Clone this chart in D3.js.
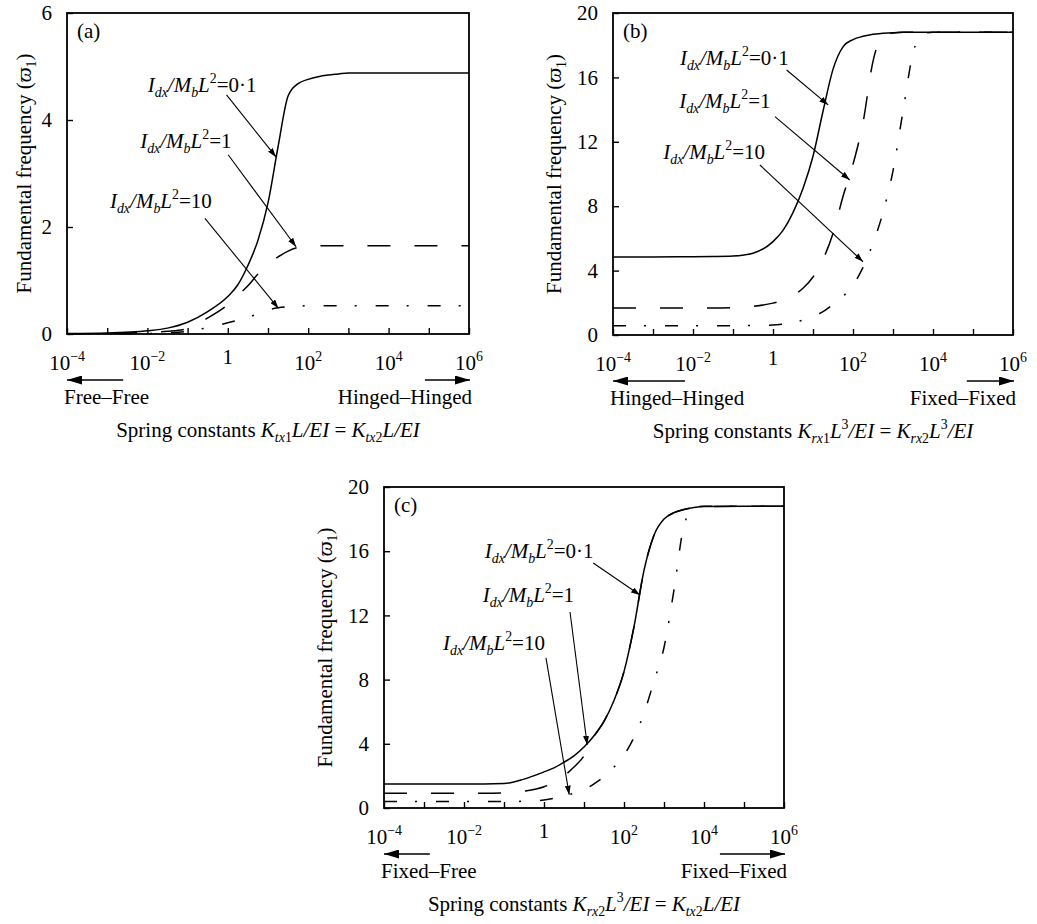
<!DOCTYPE html>
<html>
<head>
<meta charset="utf-8">
<script src="https://cdnjs.cloudflare.com/ajax/libs/d3/7.8.5/d3.min.js"></script>
<style>
  body { margin: 0; background: #fff; }
  svg text { font-family: 'Liberation Serif', 'Times New Roman', serif; fill: #000; white-space: pre; }
</style>
</head>
<body>
<svg id="chart" width="1037" height="924"></svg>
<script>
// spring constant values (log grid) shared by every curve
var kGrid = [1e-4, 1e-3, 1e-2, 0.0316, 0.1, 0.316, 1, 1.78, 3.16, 5.62, 10, 17.8, 31.6, 56.2,
  100, 178, 316, 562, 1000, 1780, 3160, 5620, 1e4, 1e5, 1e6];
var decades = [1e-4, 1e-3, 1e-2, 1e-1, 1, 10, 100, 1e3, 1e4, 1e5, 1e6];
var tickLabels = [[1e-4, '−4'], [1e-2, '−2'], [1, ''], [100, '2'], [1e4, '4'], [1e6, '6']];
var ratios = ['0·1', '1', '10'];

// (a) translational springs, free-free -> hinged-hinged
var aSolid = [0.01, 0.02, 0.06, 0.11, 0.22, 0.42, 0.7, 0.92, 1.28, 1.75, 2.45, 3.5, 4.45, 4.68,
  4.76, 4.81, 4.84, 4.86, 4.88, 4.88, 4.88, 4.88, 4.88, 4.88, 4.88];
var aDashed = [0.005, 0.01, 0.03, 0.05, 0.1, 0.3, 0.55, 0.72, 0.9, 1.12, 1.3, 1.44, 1.55, 1.62,
  1.64, 1.65, 1.65, 1.65, 1.65, 1.65, 1.65, 1.65, 1.65, 1.65, 1.65];
var aDashDot = [0.002, 0.004, 0.01, 0.02, 0.05, 0.12, 0.21, 0.26, 0.31, 0.38, 0.45, 0.49, 0.51, 0.52,
  0.53, 0.53, 0.53, 0.53, 0.53, 0.53, 0.53, 0.53, 0.53, 0.53, 0.53];

// (b) rotational springs, hinged-hinged -> fixed-fixed
var bSolid = [4.85, 4.85, 4.86, 4.87, 4.9, 5.08, 5.8, 6.5, 7.6, 9.1, 11.1, 13.9, 16.5, 17.9,
  18.35, 18.55, 18.68, 18.74, 18.78, 18.8, 18.8, 18.8, 18.8, 18.8, 18.8];
var bDashed = [1.68, 1.68, 1.68, 1.68, 1.7, 1.78, 1.98, 2.15, 2.45, 2.9, 3.6, 4.7, 6.3, 8.6,
  10.6, 13.2, 17.0, 18.6, 18.75, 18.8, 18.8, 18.8, 18.8, 18.8, 18.8];
var bDashDot = [0.58, 0.58, 0.58, 0.58, 0.58, 0.59, 0.62, 0.68, 0.77, 0.93, 1.15, 1.45, 1.9, 2.4,
  3.1, 4.2, 5.7, 7.6, 10.2, 13.9, 17.5, 18.7, 18.8, 18.8, 18.8];

// (c) springs at end 2, fixed-free -> fixed-fixed
var cSolid = [1.5, 1.5, 1.5, 1.5, 1.52, 1.8, 2.25, 2.5, 2.85, 3.25, 3.8, 4.5, 5.4, 6.7,
  8.5, 11.3, 14.8, 17.0, 18.0, 18.4, 18.6, 18.72, 18.78, 18.8, 18.8];
var cDashed = [0.92, 0.92, 0.92, 0.92, 0.95, 1.05, 1.32, 1.6, 2.0, 2.55, 3.25, 4.45, 5.4, 6.7,
  8.5, 11.3, 14.8, 17.0, 18.0, 18.4, 18.6, 18.72, 18.78, 18.8, 18.8];
var cDashDot = [0.4, 0.4, 0.4, 0.4, 0.4, 0.42, 0.5, 0.6, 0.75, 0.92, 1.15, 1.5, 1.95, 2.55,
  3.3, 4.4, 5.9, 7.9, 10.0, 13.6, 17.6, 18.7, 18.8, 18.8, 18.8];

var styles = [null, '23,24', '13,18,2,19'];

var svg = d3.select('#chart');
svg.append('rect').attr('width', 1037).attr('height', 924).attr('fill', '#fff');

var defs = svg.append('defs');
defs.append('marker').attr('id', 'tip')
  .attr('markerUnits', 'userSpaceOnUse').attr('markerWidth', 10).attr('markerHeight', 6)
  .attr('refX', 9).attr('refY', 3).attr('orient', 'auto')
  .append('path').attr('d', 'M0,0 L9,3 L0,6 Z').attr('fill', '#000');
defs.append('marker').attr('id', 'bigtip')
  .attr('markerUnits', 'userSpaceOnUse').attr('markerWidth', 16).attr('markerHeight', 9)
  .attr('refX', 15).attr('refY', 4.5).attr('orient', 'auto')
  .append('path').attr('d', 'M0,0 L15,4.5 L0,9 Z').attr('fill', '#000');

// text with italic / sub / superscript parts
function rich(g, x, y, parts, size, anchor) {
  var t = g.append('text').attr('x', x).attr('y', y)
    .attr('font-size', size).attr('text-anchor', anchor || 'start');
  var shift = 0;
  parts.forEach(function(p) {
    var s = p[1], target = 0, fs = size, it = false;
    if (s === 'i') it = true;
    if (s === 'isub') { it = true; target = size * 0.25; fs = size * 0.66; }
    if (s === 'sub') { target = size * 0.25; fs = size * 0.66; }
    if (s === 'sup') { target = -size * 0.42; fs = size * 0.66; }
    t.append('tspan').attr('dy', target - shift).attr('font-size', fs)
      .attr('font-style', it ? 'italic' : 'normal').text(p[0]);
    shift = target;
  });
  return t;
}

function ratioLabel(r) {
  return [['I', 'i'], ['dx', 'isub'], ['/', 'i'], ['M', 'i'], ['b', 'isub'], ['L', 'i'],
    ['2', 'sup'], ['=' + r, 'r']];
}

function drawPanel(p) {
  var g = svg.append('g').attr('transform', 'translate(' + p.left + ',' + p.top + ')');
  var x = d3.scaleLog().domain([1e-4, 1e6]).range([0, p.width]);
  var y = d3.scaleLinear().domain([0, p.yMax]).range([p.height, 0]);

  var xa = g.append('g').attr('transform', 'translate(0,' + p.height + ')')
    .call(d3.axisBottom(x).tickValues(decades).tickSizeInner(-6).tickSizeOuter(0).tickFormat(''));
  var ya = g.append('g')
    .call(d3.axisLeft(y).tickValues(p.yTicks).tickFormat(d3.format('d'))
      .tickSizeInner(-6).tickSizeOuter(0).tickPadding(15));
  ya.attr('font-size', 21).attr('font-family', null);
  xa.select('.domain').remove();
  ya.select('.domain').remove();
  g.selectAll('.tick line').attr('stroke-width', 1.4);

  // x tick labels 10^n
  tickLabels.forEach(function(t) {
    if (t[1] === '') {
      g.append('text').attr('x', x(t[0])).attr('y', p.height + 30)
        .attr('font-size', 21).attr('text-anchor', 'middle').text('1');
    } else {
      rich(g, x(t[0]), p.height + 36, [['10', 'r'], [t[1], 'sup']], 21, 'middle');
    }
  });

  var line = d3.line()
    .x(function(d) { return x(d[0]); })
    .y(function(d) { return y(d[1]); })
    .curve(d3.curveMonotoneX);

  p.series.forEach(function(vals, i) {
    g.append('path')
      .datum(kGrid.map(function(k, j) { return [k, vals[j]]; }))
      .attr('d', line)
      .attr('fill', 'none')
      .attr('stroke', '#000')
      .attr('stroke-width', 1.5)
      .attr('stroke-dasharray', styles[i]);
  });

  g.append('rect').attr('width', p.width).attr('height', p.height)
    .attr('fill', 'none').attr('stroke', '#000').attr('stroke-width', 1.8);

  g.append('text').attr('x', 10).attr('y', 25).attr('font-size', 21).text(p.tag);

  // annotations: label position, arrow start and arrow tip in data units
  p.notes.forEach(function(n, i) {
    rich(g, x(n[0]), y(n[1]), ratioLabel(ratios[i]), 21);
    g.append('line')
      .attr('x1', x(n[2])).attr('y1', y(n[3]))
      .attr('x2', x(n[4])).attr('y2', y(n[5]))
      .attr('stroke', '#000').attr('stroke-width', 1.1)
      .attr('marker-end', 'url(#tip)');
  });

  // end condition arrows
  var ay = p.height + 46;
  g.append('line').attr('x1', x(p.leftArrow)).attr('y1', ay).attr('x2', 0).attr('y2', ay)
    .attr('stroke', '#000').attr('stroke-width', 1.4).attr('marker-end', 'url(#bigtip)');
  g.append('line').attr('x1', x(p.rightArrow)).attr('y1', ay).attr('x2', p.width + 1).attr('y2', ay)
    .attr('stroke', '#000').attr('stroke-width', 1.4).attr('marker-end', 'url(#bigtip)');
  g.append('text').attr('x', -3).attr('y', p.height + 70).attr('font-size', 21).text(p.leftText);
  g.append('text').attr('x', p.width + 3).attr('y', p.height + 70).attr('font-size', 21)
    .attr('text-anchor', 'end').text(p.rightText);

  rich(g, p.width / 2, p.height + 103, p.xTitle, 21, 'middle');

  rich(g.append('g').attr('transform', 'translate(' + p.yTitleX + ',' + (p.height / 2) + ') rotate(-90)'),
    0, 0, [['Fundamental frequency (', 'r'], ['ϖ', 'i'], ['1', 'sub'], [')', 'r']], 21, 'middle');
}

drawPanel({
  tag: '(a)', left: 67, top: 13, width: 402, height: 321, yMax: 6, yTicks: [0, 2, 4, 6],
  series: [aSolid, aDashed, aDashDot],
  notes: [[0.0102, 4.52, 0.93, 4.47, 15.8, 3.31],
          [0.0066, 3.48, 1.02, 3.35, 50, 1.63],
          [0.00117, 2.36, 0.27, 2.16, 18.2, 0.48]],
  leftArrow: 0.0025, rightArrow: 8e4, leftText: 'Free–Free', rightText: 'Hinged–Hinged',
  yTitleX: -36,
  xTitle: [['Spring constants ', 'r'], ['K', 'i'], ['tx', 'isub'], ['1', 'sub'], ['L/EI', 'i'],
    [' = ', 'r'], ['K', 'i'], ['tx', 'isub'], ['2', 'sub'], ['L/EI', 'i']]
});

drawPanel({
  tag: '(b)', left: 613, top: 13, width: 400, height: 322, yMax: 20, yTicks: [0, 4, 8, 12, 16, 20],
  series: [bSolid, bDashed, bDashDot],
  notes: [[0.0047, 16.77, 2.19, 16.46, 24, 14.29],
          [0.0045, 14.1, 1.12, 13.56, 83, 9.63],
          [0.0018, 10.93, 0.47, 10.56, 178, 4.55]],
  leftArrow: 0.0063, rightArrow: 7e4, leftText: 'Hinged–Hinged', rightText: 'Fixed–Fixed',
  yTitleX: -52,
  xTitle: [['Spring constants ', 'r'], ['K', 'i'], ['rx', 'isub'], ['1', 'sub'], ['L', 'i'],
    ['3', 'sup'], ['/EI', 'i'], [' = ', 'r'], ['K', 'i'], ['rx', 'isub'], ['2', 'sub'],
    ['L', 'i'], ['3', 'sup'], ['/EI', 'i']]
});

drawPanel({
  tag: '(c)', left: 384, top: 487, width: 400, height: 321, yMax: 20, yTicks: [0, 4, 8, 12, 16, 20],
  series: [cSolid, cDashed, cDashDot],
  notes: [[0.033, 15.57, 17, 15.26, 251, 13.27],
          [0.0295, 12.83, 4.47, 12.21, 12, 3.94],
          [0.003, 9.85, 1.12, 9.35, 4.27, 0.83]],
  leftArrow: 0.0014, rightArrow: 2.5e4, leftText: 'Fixed–Free', rightText: 'Fixed–Fixed',
  yTitleX: -52,
  xTitle: [['Spring constants ', 'r'], ['K', 'i'], ['rx', 'isub'], ['2', 'sub'], ['L', 'i'],
    ['3', 'sup'], ['/EI', 'i'], [' = ', 'r'], ['K', 'i'], ['tx', 'isub'], ['2', 'sub'],
    ['L/EI', 'i']]
});
</script>
</body>
</html>
